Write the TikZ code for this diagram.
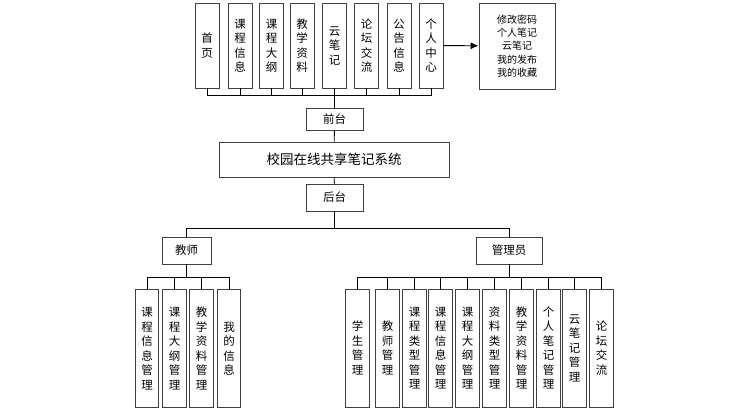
\documentclass[tikz,border=0pt]{standalone}
\usepackage{fontspec}
\setmainfont{Noto Sans CJK SC}
\usepackage{tikz}
\usetikzlibrary{positioning, arrows, arrows.meta}

\begin{document}
\begin{tikzpicture}[x=1pt,y=-1pt,
    line width=0.9pt,
    box/.style={rectangle,draw=black!75,inner sep=0pt,align=center,font=\fontsize{11.5}{14.5}\selectfont},
    topbox/.style={box,minimum width=24pt,minimum height=85pt},
    lowbox/.style={box,minimum width=23.5pt,minimum height=118pt}]
    \useasboundingbox (0,0) rectangle (733,416);
    % front end
    \node (home)      at (207,45.5)   [topbox] {首\\页};
    \node (courseinf) at (240,45.5)   [topbox] {课\\程\\信\\息};
    \node (syllabus)  at (271.5,45.5) [topbox] {课\\程\\大\\纲};
    \node (material)  at (302,45.5)   [topbox] {教\\学\\资\\料};
    \node (cloud)     at (334.5,45.5) [topbox] {云\\笔\\记};
    \node (forum)     at (366.5,45.5) [topbox] {论\\坛\\交\\流};
    \node (notice)    at (399,45.5)   [topbox] {公\\告\\信\\息};
    \node (personal)  at (431,45.5)   [topbox] {个\\人\\中\\心};
    \node (perslist)  at (517,46)     [box,minimum width=76pt,minimum height=86pt,font=\fontsize{10}{13.4}\selectfont]
        {修改密码\\个人笔记\\云笔记\\我的发布\\我的收藏};
    \draw[-{Latex[length=8pt,width=7pt]}] (personal) -- (perslist);
    \coordinate (fbus) at (334.5,95);
    \draw (home.south) |- (fbus);
    \draw (courseinf.south) |- (fbus);
    \draw (syllabus.south) |- (fbus);
    \draw (material.south) |- (fbus);
    \draw (cloud.south) -- (fbus);
    \draw (forum.south) |- (fbus);
    \draw (notice.south) |- (fbus);
    \draw (personal.south) |- (fbus);
    \node (front)  at (334.5,119)   [box,minimum width=57pt,minimum height=22pt] {前台};
    \node (system) at (334,159.5)   [box,minimum width=230pt,minimum height=35pt,font=\fontsize{13.5}{15}\selectfont] {校园在线共享笔记系统};
    \node (back)   at (334.5,197.5) [box,minimum width=57pt,minimum height=27pt] {后台};
    \draw (fbus) -- (front);
    \draw (front) -- (system);
    \draw (system) -- (back);
    % back end
    \coordinate (bbus) at (334.5,228);
    \node (teacher) at (186.5,250.5) [box,minimum width=49pt,minimum height=27pt] {教师};
    \node (admin)   at (509,250.5)   [box,minimum width=66pt,minimum height=27pt] {管理员};
    \draw (back) -- (bbus);
    \draw (teacher.north) |- (bbus);
    \draw (admin.north) |- (bbus);
    % teacher
    \coordinate (tbus) at (186.5,277);
    \node (tcourse)   at (147,348.5)   [lowbox] {课\\程\\信\\息\\管\\理};
    \node (tsyllabus) at (174.5,348.5) [lowbox] {课\\程\\大\\纲\\管\\理};
    \node (tmaterial) at (201.5,348.5) [lowbox] {教\\学\\资\\料\\管\\理};
    \node (tmine)     at (229,348.5)   [lowbox] {我\\的\\信\\息};
    \draw (teacher) -- (tbus);
    \draw (tcourse.north) |- (tbus);
    \draw (tsyllabus.north) |- (tbus);
    \draw (tmaterial.north) |- (tbus);
    \draw (tmine.north) |- (tbus);
    % admin
    \coordinate (abus) at (509,277);
    \node (astudent)  at (357.5,348) [lowbox] {学\\生\\管\\理};
    \node (ateacher)  at (387.5,348) [lowbox] {教\\师\\管\\理};
    \node (actype)    at (414.5,348) [lowbox] {课\\程\\类\\型\\管\\理};
    \node (acourse)   at (440.5,348) [lowbox] {课\\程\\信\\息\\管\\理};
    \node (asyllabus) at (467.5,348) [lowbox] {课\\程\\大\\纲\\管\\理};
    \node (amtype)    at (494.5,348) [lowbox] {资\\料\\类\\型\\管\\理};
    \node (amaterial) at (521.5,348) [lowbox] {教\\学\\资\\料\\管\\理};
    \node (anotes)    at (548.5,348) [lowbox] {个\\人\\笔\\记\\管\\理};
    \node (acloud)    at (574.5,348) [lowbox] {云\\笔\\记\\管\\理};
    \node (aforum)    at (601.5,348) [lowbox] {论\\坛\\交\\流};
    \draw (admin) -- (abus);
    \draw (astudent.north) |- (abus);
    \draw (ateacher.north) |- (abus);
    \draw (actype.north) |- (abus);
    \draw (acourse.north) |- (abus);
    \draw (asyllabus.north) |- (abus);
    \draw (amtype.north) |- (abus);
    \draw (amaterial.north) |- (abus);
    \draw (anotes.north) |- (abus);
    \draw (acloud.north) |- (abus);
    \draw (aforum.north) |- (abus);
\end{tikzpicture}
\end{document}
